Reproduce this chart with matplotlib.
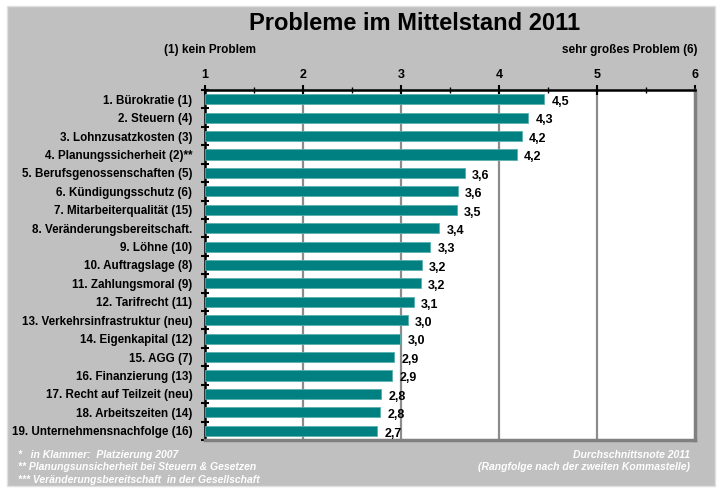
import matplotlib.pyplot as plt
from matplotlib.patches import Rectangle

# ---------------------------------------------------
# Data
# ---------------------------------------------------

categories = [
    "1. Bürokratie (1)",
    "2. Steuern (4)",
    "3. Lohnzusatzkosten (3)",
    "4. Planungssicherheit (2)**",
    "5. Berufsgenossenschaften (5)",
    "6. Kündigungsschutz (6)",
    "7. Mitarbeiterqualität (15)",
    "8. Veränderungsbereitschaft.",
    "9. Löhne (10)",
    "10. Auftragslage (8)",
    "11. Zahlungsmoral (9)",
    "12. Tarifrecht (11)",
    "13. Verkehrsinfrastruktur (neu)",
    "14. Eigenkapital (12)",
    "15. AGG (7)",
    "16. Finanzierung (13)",
    "17. Recht auf Teilzeit (neu)",
    "18. Arbeitszeiten (14)",
    "19. Unternehmensnachfolge (16)",
]

values = [4.46, 4.30, 4.23, 4.18, 3.65, 3.58, 3.57, 3.39, 3.30, 3.21,
          3.20, 3.13, 3.07, 2.99, 2.93, 2.91, 2.80, 2.79, 2.76]

value_labels = ["4,5", "4,3", "4,2", "4,2", "3,6", "3,6", "3,5", "3,4", "3,3", "3,2",
                "3,2", "3,1", "3,0", "3,0", "2,9", "2,9", "2,8", "2,8", "2,7"]

x_ticks = [1, 2, 3, 4, 5, 6]

plt.rcParams["font.family"] = ["Liberation Sans Narrow", "Liberation Sans", "DejaVu Sans"]

# ---------------------------------------------------
# Figure
# ---------------------------------------------------

fig = plt.figure(figsize=(7.2, 4.88), dpi=100)
fig.patch.set_facecolor("white")

bg = Rectangle(
    (7 / 720, 2 / 488), 708 / 720, 480 / 488,
    transform=fig.transFigure, facecolor="#C0C0C0",
    edgecolor="#E0E0E0", linewidth=1, zorder=-10
)
fig.patches.append(bg)

ax = fig.add_axes([205 / 720, 1 - 440 / 488, 490 / 720, 350 / 488])
ax.set_facecolor("white")
ax.set_zorder(5)

pos = list(range(len(categories)))

ax.barh(
    pos, [v - 1 for v in values], left=1, height=0.55,
    color="#008080", edgecolor="#5AAFAF", linewidth=0.6, zorder=3
)

for y, v, lab in zip(pos, values, value_labels):
    ax.text(v + 0.075, y + 0.15, lab, va="center", ha="left",
            fontsize=9, fontweight="bold", color="black", zorder=4)

ax.set_xlim(1, 6)
ax.set_ylim(len(categories) - 0.5, -0.5)

# vertical gridlines
for g in [2, 3, 4, 5]:
    ax.axvline(g, color="#8C8C8C", linewidth=1.6, zorder=1)

# top axis
ax.xaxis.tick_top()
ax.set_xticks(x_ticks)
ax.set_xticklabels([str(t) for t in x_ticks], fontsize=9, fontweight="bold")
ax.set_xticks([1.5, 2.5, 3.5, 4.5, 5.5], minor=True)
ax.tick_params(axis="x", which="major", direction="inout", length=7, width=1.5, pad=3)
ax.tick_params(axis="x", which="minor", direction="inout", length=4, width=1.0)

# left axis: labels at centers, ticks at boundaries
ax.set_yticks(pos)
ax.set_yticklabels(categories, fontsize=8.4, fontweight="bold")
ax.tick_params(axis="y", which="major", length=0, pad=9)
ax.set_yticks([p + 0.5 for p in pos[:-1]] + [-0.5, len(categories) - 0.5], minor=True)
ax.tick_params(axis="y", which="minor", direction="inout", length=6, width=1.5)

ax.spines["top"].set_linewidth(1.8)
ax.spines["left"].set_linewidth(1.8)
ax.spines["right"].set_color("#808080")
ax.spines["right"].set_linewidth(2.5)
ax.spines["bottom"].set_color("#808080")
ax.spines["bottom"].set_linewidth(2.5)

# ---------------------------------------------------
# Texts
# ---------------------------------------------------

fig.text(415 / 720, 1 - 23 / 488, "Probleme im Mittelstand 2011",
         ha="center", va="center", fontsize=17, fontweight="bold",
         family=["Liberation Sans", "DejaVu Sans"])

fig.text(210 / 720, 1 - 50 / 488, "(1) kein Problem", ha="center", va="center",
         fontsize=8.5, fontweight="bold")
fig.text(698 / 720, 1 - 50 / 488, "sehr großes Problem (6)", ha="right", va="center",
         fontsize=8.5, fontweight="bold")

notes_left = [
    "*   in Klammer:  Platzierung 2007",
    "** Planungsunsicherheit bei Steuern & Gesetzen",
    "*** Veränderungsbereitschaft  in der Gesellschaft",
]
notes_right = [
    "Durchschnittsnote 2011",
    "(Rangfolge nach der zweiten Kommastelle)",
]

for i, t in enumerate(notes_left):
    fig.text(18 / 720, 1 - (455 + i * 12.5) / 488, t, ha="left", va="center",
             fontsize=7.5, fontweight="bold", style="italic", color="white")
for i, t in enumerate(notes_right):
    fig.text(690 / 720, 1 - (455 + i * 12.5) / 488, t, ha="right", va="center",
             fontsize=7.5, fontweight="bold", style="italic", color="white")

plt.savefig("out.png", dpi=100)
plt.close()
